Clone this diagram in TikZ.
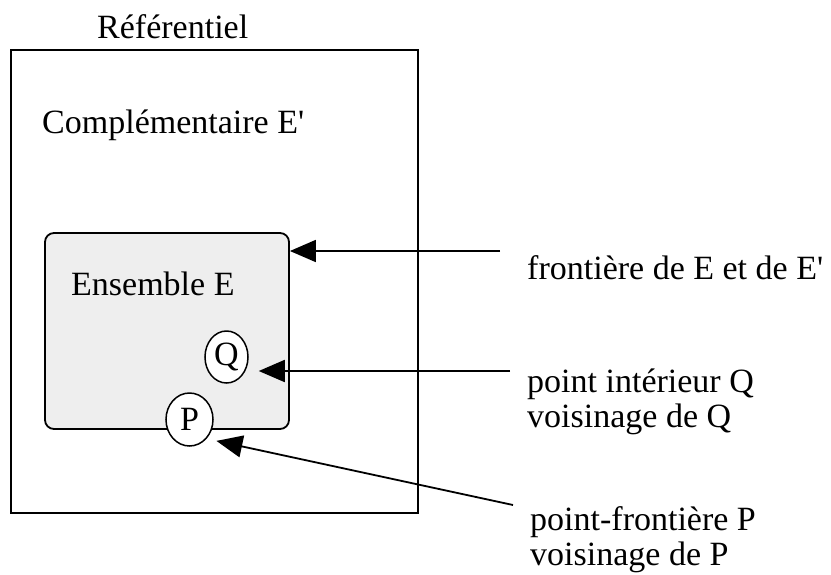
\documentclass[tikz,border=0pt]{standalone}
\usepackage{fontspec}
\setmainfont{Liberation Serif}
\usetikzlibrary{arrows.meta,shapes.geometric}

\definecolor{setgray}{RGB}{238,238,238}

\begin{document}
\begin{tikzpicture}[x=1pt, y=-1pt,
    lbl/.style={anchor=base west, inner sep=0pt, font=\fontsize{34}{35}\selectfont, align=left},
    region/.style={rectangle, draw=black, line width=1.8pt, inner sep=0pt},
    pt/.style={ellipse, draw=black, fill=white, line width=1.5pt, inner sep=0pt, font=\fontsize{34}{35}\selectfont},
    conn/.style={draw=black, line width=1.8pt, -{Triangle[length=26pt, width=22pt]}}
    ]
    \useasboundingbox (0,0) rectangle (831,574);

    \node[region, minimum width=407pt, minimum height=463pt] (ref) at (214.5,281.5) {};
    \node[region, fill=setgray, rounded corners=9pt, minimum width=244pt, minimum height=196pt] (setE) at (167,331) {};
    \node[pt, minimum width=43pt, minimum height=52pt] (Q) at (226.5,357) {Q};
    \node[pt, minimum width=47pt, minimum height=53pt] (P) at (189.5,419.5) {P};

    \node[lbl] (reflbl) at (97,38) {Référentiel};
    \node[lbl] (complbl) at (42,133) {Complémentaire E\textquotesingle};
    \node[lbl] (setlbl) at (71,295) {Ensemble E};
    \node[lbl] (frlbl) at (527,279) {frontière de E et de E\textquotesingle};
    % base anchor = baseline of the last line
    \node[lbl] (pilbl) at (527,427) {point intérieur Q\\voisinage de Q};
    \node[lbl] (pflbl) at (530,565) {point-frontière P\\voisinage de P};

    \coordinate (fr) at (500,251);
    \coordinate (pi) at (510,371);
    \coordinate (pf) at (513,505);

    \draw[conn] (fr) -- (fr -| setE.east);
    \draw[conn, shorten >=10pt] (pi) -- (pi -| Q.east);
    \draw[conn, shorten >=10pt] (pf) -- (P.south east);
\end{tikzpicture}
\end{document}
